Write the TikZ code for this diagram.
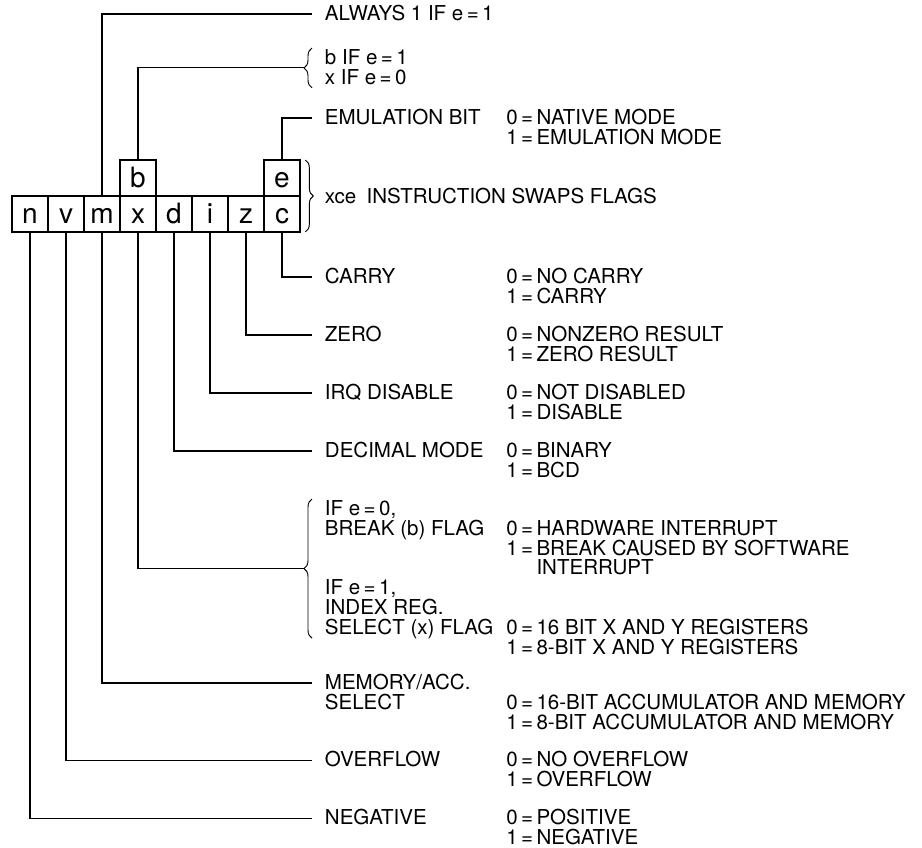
\documentclass[tikz,border=0pt]{standalone}
\usepackage{fontspec}
\setmainfont{TeX Gyre Heros}
\usetikzlibrary{positioning,decorations.pathreplacing}
\tikzset{
  lead/.style={line width=0.8pt, draw=black},
  brc/.style={decorate, decoration={brace, amplitude=6pt}, line width=0.7pt, draw=black}
}

\begin{document}
\begin{tikzpicture}[
  x=0.75pt, y=-0.75pt,
  cell/.style={draw=black, line width=1.5pt, fill=white, minimum width=27pt, minimum height=27pt, inner sep=0pt, outer sep=0pt, text height=14pt, text depth=0pt, font=\fontsize{21}{21}\selectfont},
  lbl/.style={anchor=west, inner xsep=9.5pt, inner ysep=0pt, text height=12pt, text depth=2.5pt, font=\fontsize{15.4}{17}\selectfont},
  nxt/.style={lbl, anchor=north west},
  val/.style={lbl, inner xsep=0pt},
  valnxt/.style={val, anchor=north west},
  rbrc/.style={brc, decoration={raise=4pt}}
]
\useasboundingbox (0,0) rectangle (922,848);
\coordinate (vcol) at (506,0);
\node[cell] (cn) at (30,214) {n};
\node[cell, right=0pt of cn] (cv) {v};
\node[cell, right=0pt of cv] (cm) {m};
\node[cell, right=0pt of cm] (cx) {x};
\node[cell, right=0pt of cx] (cd) {d};
\node[cell, right=0pt of cd] (ci) {i};
\node[cell, right=0pt of ci] (cz) {z};
\node[cell, right=0pt of cz] (cc) {c};
\node[cell, above=0pt of cx] (cb) {b};
\node[cell, above=0pt of cc] (ce) {e};
\draw[rbrc] (ce.north east) -- (cc.south east);
\node[lbl] (xce) at (312,197) {xce\enspace INSTRUCTION SWAPS FLAGS};

\node[lbl] (always) at (312,14) {ALWAYS 1 IF e\,=\,1};
\node[lbl] (bif) at (312,58) {b IF e\,=\,1};
\node[nxt] (xif) at (bif.south west) {x IF e\,=\,0};
\draw[brc] (xif.south west) -- coordinate[midway, xshift=-6pt] (btip) (bif.north west);
\node[lbl] (emu) at (312,118) {EMULATION BIT};
\node[val] (emu0) at (emu -| vcol) {0\,=\,NATIVE MODE};
\node[valnxt] (emu1) at (emu0.south west) {1\,=\,EMULATION MODE};

\node[lbl] (carry) at (312,277) {CARRY};
\node[val] (carry0) at (carry -| vcol) {0\,=\,NO CARRY};
\node[valnxt] (carry1) at (carry0.south west) {1\,=\,CARRY};
\node[lbl] (zero) at (312,335) {ZERO};
\node[val] (zero0) at (zero -| vcol) {0\,=\,NONZERO RESULT};
\node[valnxt] (zero1) at (zero0.south west) {1\,=\,ZERO RESULT};
\node[lbl] (irq) at (312,393) {IRQ DISABLE};
\node[val] (irq0) at (irq -| vcol) {0\,=\,NOT DISABLED};
\node[valnxt] (irq1) at (irq0.south west) {1\,=\,DISABLE};
\node[lbl] (dec) at (312,451) {DECIMAL MODE};
\node[val] (dec0) at (dec -| vcol) {0\,=\,BINARY};
\node[valnxt] (dec1) at (dec0.south west) {1\,=\,BCD};

\node[lbl] (ife0) at (312,509) {IF e\,=\,0,};
\node[nxt] (brk) at (ife0.south west) {BREAK (b) FLAG};
\node[val] (brk0) at (brk -| vcol) {0\,=\,HARDWARE INTERRUPT};
\node[valnxt] (brk1) at (brk0.south west) {1\,=\,BREAK CAUSED BY SOFTWARE};
\node[valnxt] (brk2) at (brk1.south west) {\phantom{1\,=\,}INTERRUPT};
\node[nxt] (ife1) at (brk2.south -| brk.west) {IF e\,=\,1,};
\node[nxt] (idx) at (ife1.south west) {INDEX REG.};
\node[nxt] (selx) at (idx.south west) {SELECT (x) FLAG};
\node[val] (selx0) at (selx -| vcol) {0\,=\,16 BIT X AND Y REGISTERS};
\node[valnxt] (selx1) at (selx0.south west) {1\,=\,8-BIT X AND Y REGISTERS};
\draw[brc] (selx.south west) -- coordinate[midway, xshift=-6pt] (xtip) (ife0.north west);

\node[lbl] (mem) at (312,683) {MEMORY/ACC.};
\node[nxt] (memsel) at (mem.south west) {SELECT};
\node[val] (mem0) at (memsel -| vcol) {0\,=\,16-BIT ACCUMULATOR AND MEMORY};
\node[valnxt] (mem1) at (mem0.south west) {1\,=\,8-BIT ACCUMULATOR AND MEMORY};
\node[lbl] (ovf) at (312,760.3) {OVERFLOW};
\node[val] (ovf0) at (ovf -| vcol) {0\,=\,NO OVERFLOW};
\node[valnxt] (ovf1) at (ovf0.south west) {1\,=\,OVERFLOW};
\node[lbl] (neg) at (312,818.3) {NEGATIVE};
\node[val] (neg0) at (neg -| vcol) {0\,=\,POSITIVE};
\node[valnxt] (neg1) at (neg0.south west) {1\,=\,NEGATIVE};

\draw[lead] (cm.north) |- (always.west);
\draw[lead] (cb.north) |- (btip);
\draw[lead] (ce.north) |- (emu.west);
\draw[lead] (cc.south) |- (carry.west);
\draw[lead] (cz.south) |- (zero.west);
\draw[lead] (ci.south) |- (irq.west);
\draw[lead] (cd.south) |- (dec.west);
\draw[lead] (cx.south) |- (xtip);
\draw[lead] (cm.south) |- (mem.west);
\draw[lead] (cv.south) |- (ovf.west);
\draw[lead] (cn.south) |- (neg.west);
\end{tikzpicture}
\end{document}
